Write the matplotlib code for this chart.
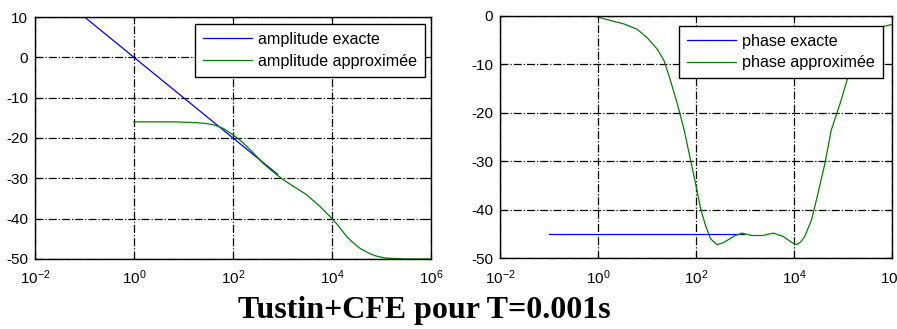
import numpy as np
import matplotlib
matplotlib.use("Agg")
import matplotlib.pyplot as plt

plt.rcParams["font.family"] = ["Liberation Sans", "DejaVu Sans"]
plt.rcParams["mathtext.default"] = "regular"
plt.rcParams["axes.unicode_minus"] = False

# Amplitude (dB) -- exact half-order integrator vs Tustin+CFE approximation
logw_amp_exact = [-1.0, 0.0, 1.0, 2.0, 2.9]
amp_exact = [10.0, 0.0, -10.0, -20.0, -29.0]

logw_amp_approx = [0.0, 0.8, 1.27, 1.45, 1.60, 1.80, 2.0, 2.15, 2.28, 2.45, 2.61,
                   2.80, 3.02, 3.25, 3.49, 3.75, 3.96, 4.09, 4.20, 4.30, 4.45,
                   4.57, 4.75, 4.90, 5.05, 5.2, 5.5, 6.0]
amp_approx = [-16.0, -16.0, -16.2, -16.4, -16.7, -17.6, -19.2, -20.6, -22.1, -24.2,
              -26.3, -28.3, -30.4, -32.2, -34.1, -36.9, -39.5, -41.2, -42.9, -44.5,
              -46.2, -47.4, -48.6, -49.3, -49.7, -49.85, -50.0, -50.0]

# Phase (deg)
logw_ph_exact = [-1.0, 2.97]
ph_exact = [-45.0, -45.0]

logw_ph_approx = [0.0, 0.26, 0.53, 0.80, 1.01, 1.21, 1.35, 1.48, 1.62, 1.76,
                  1.89, 1.99, 2.10, 2.20, 2.30, 2.43, 2.55, 2.67, 2.80, 2.94,
                  3.14, 3.35, 3.58, 3.78, 3.95, 4.05, 4.14, 4.22, 4.36, 4.49,
                  4.63, 4.76, 4.96, 5.12, 5.3, 5.5, 5.7, 5.84, 6.0]
ph_approx = [-0.3, -1.0, -1.7, -2.8, -4.6, -6.9, -9.3, -13.4, -18.2, -23.6,
             -29.8, -34.5, -40.0, -43.4, -46.0, -47.2, -46.8, -46.1, -45.3, -44.8,
             -45.3, -45.3, -44.8, -45.5, -46.7, -47.2, -46.6, -45.5, -42.0, -36.6,
             -30.5, -23.6, -17.5, -12.0, -7.0, -4.0, -2.6, -2.2, -1.8]

xticks = [1e-2, 1e0, 1e2, 1e4, 1e6]
blue = (0, 0, 1)
green = (0, 0.5, 0)


def style_axes(ax, yticks):
    ax.set_xscale("log")
    ax.set_xlim(1e-2, 1e6)
    ax.set_ylim(yticks[0], yticks[-1])
    ax.set_xticks(xticks)
    ax.xaxis.set_minor_locator(matplotlib.ticker.NullLocator())
    ax.set_yticks(yticks)
    ax.grid(True, color="black", linestyle="-.", linewidth=0.9)
    ax.tick_params(direction="in", length=4, top=True, right=True,
                   labelsize=11, colors="black")
    ax.tick_params(axis="y", pad=5)
    ax.tick_params(axis="x", pad=7)
    for s in ax.spines.values():
        s.set_linewidth(1.0)
        s.set_color("black")


def add_legend(ax, anchor):
    leg = ax.legend(loc="upper right", bbox_to_anchor=anchor, borderaxespad=0,
                    fontsize=11.6, fancybox=False, framealpha=1, edgecolor="black",
                    handlelength=3.0, handletextpad=0.4, borderpad=0.5,
                    labelspacing=0.4)
    leg.get_frame().set_linewidth(1.0)


fig = plt.figure(figsize=(8.97, 3.29), dpi=100)

ax1 = fig.add_axes([0.039, 0.2128, 0.4415, 0.7355])
ax1.plot(10.0 ** np.array(logw_amp_exact), amp_exact, color=blue, lw=0.9,
         label="amplitude exacte")
ax1.plot(10.0 ** np.array(logw_amp_approx), amp_approx, color=green, lw=0.9,
         label="amplitude approximée")
style_axes(ax1, [-50, -40, -30, -20, -10, 0, 10])
add_legend(ax1, (0.985, 0.971))

ax2 = fig.add_axes([0.5574, 0.2148, 0.437, 0.7375])
ax2.plot(10.0 ** np.array(logw_ph_exact), ph_exact, color=blue, lw=0.9,
         label="phase exacte")
ax2.plot(10.0 ** np.array(logw_ph_approx), ph_approx, color=green, lw=0.9,
         label="phase approximée")
style_axes(ax2, [-50, -40, -30, -20, -10, 0])
add_legend(ax2, (0.977, 0.958))

fig.text(0.4727, 0.0334, "Tustin+CFE pour T=0.001s", ha="center", va="baseline",
         family="Liberation Serif", weight="bold", fontsize=23)

fig.savefig("out.png", dpi=100)
